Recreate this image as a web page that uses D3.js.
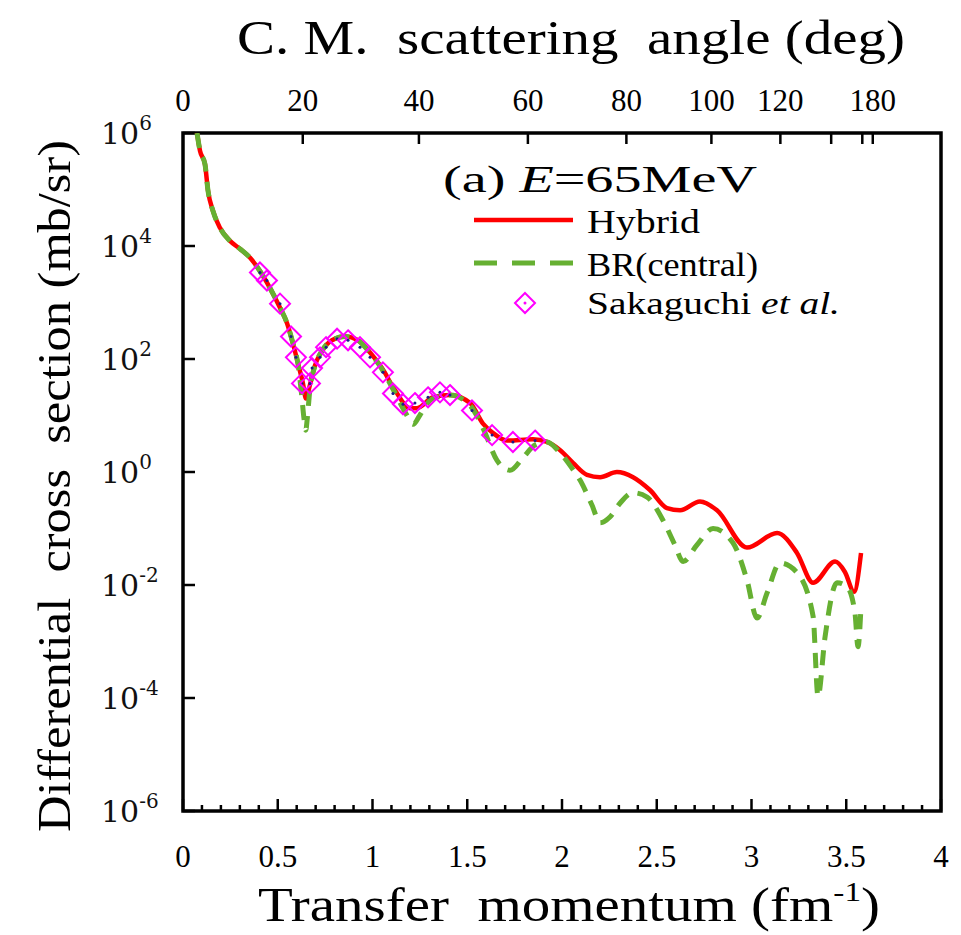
<!DOCTYPE html>
<html><head><meta charset="utf-8">
<script src="https://cdn.jsdelivr.net/npm/d3@7"></script>
<style>body{margin:0;background:#fff}svg{display:block}text{white-space:pre}</style>
</head><body>
<script>
// ---------- data ----------
const hybridQ = [0.074,0.090,0.116,0.132,0.158,0.195,0.248,0.301,0.354,0.406,0.459,0.512,0.549,0.580,0.607,0.633,0.649,0.670,0.697,0.734,0.786,0.855,0.923,0.987,1.050,1.119,1.198,1.235,1.319,1.409,1.515,1.583,1.636,1.710,1.847,1.921,1.989,2.058,2.132,2.201,2.290,2.375,2.464,2.554,2.623,2.728,2.818,2.976,3.135,3.240,3.325,3.441,3.493,3.541,3.578];
const hybridVal = [1e6,4.8e5,2.8e5,9.5e4,4.2e4,2.1e4,1.23e4,8.9e3,6.2e3,3.6e3,1.8e3,810,430,190,83,37,20,35,78,140,215,250,215,130,69,28,13.5,13.5,21,23,16.6,7.2,4.9,3.6,3.8,3.4,2.45,1.45,0.89,0.81,1.0,0.81,0.48,0.23,0.21,0.30,0.21,0.046,0.083,0.037,0.011,0.026,0.017,0.0076,0.037];

const brQ = [0.074,0.090,0.116,0.132,0.158,0.195,0.248,0.301,0.354,0.406,0.459,0.512,0.549,0.580,0.607,0.625,0.640,0.648,0.656,0.670,0.697,0.734,0.786,0.855,0.923,0.987,1.050,1.119,1.175,1.215,1.245,1.280,1.319,1.409,1.515,1.583,1.657,1.726,1.794,1.858,1.921,1.989,2.058,2.095,2.158,2.201,2.253,2.306,2.375,2.449,2.533,2.596,2.639,2.712,2.797,2.902,2.976,3.029,3.082,3.150,3.240,3.325,3.351,3.388,3.451,3.504,3.546,3.562,3.578];
const brVal = [1e6,4.8e5,2.8e5,9.5e4,4.2e4,2.1e4,1.23e4,8.9e3,6.2e3,3.6e3,1.8e3,810,430,190,80,25,8,5.5,9,30,76,140,215,250,215,128,66,25,11,7,9.5,15,20,23,15,6.0,1.6,1.07,1.8,3.0,3.4,2.2,1.1,0.72,0.26,0.126,0.16,0.28,0.43,0.36,0.14,0.051,0.026,0.051,0.10,0.056,0.0123,0.0026,0.0072,0.0245,0.0166,0.0028,0.000107,0.0012,0.011,0.0093,0.0032,0.00081,0.0042];

const expQ = [0.406,0.443,0.512,0.570,0.596,0.628,0.670,0.681,0.723,0.755,0.813,0.871,0.934,0.987,1.055,1.108,1.161,1.224,1.293,1.356,1.409,1.525,1.631,1.741,1.858];
const expVal = [3400,2450,955,250,107,37,37,69,107,162,229,214,162,107,58,24.5,15.8,16.6,21,25.7,23,12.3,4.5,3.4,3.6];

const xTicksMajor = [0,0.5,1,1.5,2,2.5,3,3.5,4];
const xTickLabels = ["0","0.5","1","1.5","2","2.5","3","3.5","4"];
const yTickExp = [6,4,2,0,-2,-4,-6];
const angleTicks = [0,20,40,60,80,100,120,140,160,180];
const angleLabels = ["0","20","40","60","80","100","120","","","180"];
const qMax = 3.64; // q at 180 deg

// ---------- layout ----------
const W=961,H=935;
const X0=183,X1=941,Y0=811,Y1=133;
const x=d3.scaleLinear().domain([0,4]).range([X0,X1]);
const y=d3.scaleLog().domain([1e-6,1e6]).range([Y0,Y1]);
const angleToQ = a => qMax*Math.sin(a*Math.PI/360);

const svg=d3.select("body").append("svg").attr("width",W).attr("height",H);
const serif="'Liberation Serif','Times New Roman',serif";

svg.append("clipPath").attr("id","clip").append("rect")
  .attr("x",X0).attr("y",Y1).attr("width",X1-X0).attr("height",Y0-Y1);

// bottom ticks
const minor=d3.range(0,4.0001,0.1).map(v=>+v.toFixed(2));
svg.append("g").selectAll("line").data(minor).join("line")
  .attr("x1",d=>x(d)).attr("x2",d=>x(d)).attr("y1",Y0).attr("y2",d=>Y0-(Math.abs(d*2-Math.round(d*2))<1e-6?12:6))
  .attr("stroke","#000").attr("stroke-width",2.5);
svg.append("g").selectAll("text").data(xTicksMajor).join("text")
  .attr("x",d=>x(d)).attr("y",867).attr("text-anchor","middle")
  .attr("font-family",serif).attr("font-size",31).text((d,i)=>xTickLabels[i]);

// top (angle) ticks
svg.append("g").selectAll("line").data(angleTicks.filter(a=>a>0)).join("line")
  .attr("x1",d=>x(angleToQ(d))).attr("x2",d=>x(angleToQ(d))).attr("y1",Y1).attr("y2",Y1+11)
  .attr("stroke","#000").attr("stroke-width",2.5);
svg.append("g").selectAll("text").data(angleTicks).join("text")
  .attr("x",d=>x(angleToQ(d))).attr("y",111).attr("text-anchor","middle")
  .attr("font-family",serif).attr("font-size",31).text((d,i)=>angleLabels[i]);

// left ticks
svg.append("g").selectAll("line").data(yTickExp).join("line")
  .attr("x1",X0).attr("x2",X0+12).attr("y1",d=>y(Math.pow(10,d))).attr("y2",d=>y(Math.pow(10,d)))
  .attr("stroke","#000").attr("stroke-width",2.5);
const yl=svg.append("g").selectAll("text").data(yTickExp).join("text")
  .attr("x",101).attr("y",d=>y(Math.pow(10,d))+11)
  .attr("font-family","'DejaVu Serif',serif").attr("fill","#111");
yl.append("tspan").attr("font-size",30).text("10");
yl.append("tspan").attr("font-size",20).attr("dy",-14).text(d=>d<0?"-"+(-d):String(d));

// frame
svg.append("rect").attr("x",X0).attr("y",Y1).attr("width",X1-X0).attr("height",Y0-Y1)
  .attr("fill","none").attr("stroke","#000").attr("stroke-width",3.5);

// curves
const line=d3.line().x(d=>x(d[0])).y(d=>y(d[1])).curve(d3.curveMonotoneX);
const plot=svg.append("g").attr("clip-path","url(#clip)");
plot.append("path").datum(hybridQ.map((q,i)=>[q,hybridVal[i]])).attr("d",line)
  .attr("fill","none").attr("stroke","#ff0000").attr("stroke-width",4.5).attr("stroke-linejoin","round");
plot.append("path").datum(brQ.map((q,i)=>[q,brVal[i]])).attr("d",line)
  .attr("fill","none").attr("stroke","#66b032").attr("stroke-width",5).attr("stroke-dasharray","15,10");

const dia="M0,-10L10,0L0,10L-10,0Z";
const pts=plot.append("g").selectAll("g").data(expQ.map((q,i)=>[q,expVal[i]])).join("g")
  .attr("transform",d=>`translate(${x(d[0])},${y(d[1])})`);
pts.append("path").attr("d",dia).attr("fill","none").attr("stroke","#ff00ff").attr("stroke-width",2);
pts.append("circle").attr("r",1.5).attr("fill","#1a1a8c");

// legend
const lg=svg.append("g").attr("font-family",serif);
const t0=lg.append("text").attr("x",443).attr("y",192).attr("font-size",38).attr("textLength",314).attr("lengthAdjust","spacingAndGlyphs");
t0.append("tspan").text("(a) ");
t0.append("tspan").attr("font-style","italic").text("E");
t0.append("tspan").text("=65MeV");
lg.append("line").attr("x1",474).attr("x2",573).attr("y1",220).attr("y2",220).attr("stroke","#ff0000").attr("stroke-width",4.5);
lg.append("text").attr("x",587).attr("y",233).attr("font-size",34).attr("textLength",113).attr("lengthAdjust","spacingAndGlyphs").text("Hybrid");
lg.append("line").attr("x1",474).attr("x2",573).attr("y1",263).attr("y2",263).attr("stroke","#66b032").attr("stroke-width",5).attr("stroke-dasharray","23,15");
lg.append("text").attr("x",587).attr("y",276).attr("font-size",34).attr("textLength",171).attr("lengthAdjust","spacingAndGlyphs").text("BR(central)");
lg.append("path").attr("d",dia).attr("transform","translate(525,303)").attr("fill","none").attr("stroke","#ff00ff").attr("stroke-width",2);
lg.append("circle").attr("cx",525).attr("cy",303).attr("r",1.5).attr("fill","#ff00ff");
const t3=lg.append("text").attr("x",587).attr("y",314).attr("font-size",31).attr("textLength",253).attr("lengthAdjust","spacingAndGlyphs");
t3.append("tspan").text("Sakaguchi ");
t3.append("tspan").attr("font-style","italic").text("et al.");

// axis titles
svg.append("text").attr("x",237).attr("y",54).attr("font-family",serif).attr("font-size",48)
  .attr("textLength",668).attr("lengthAdjust","spacingAndGlyphs").text("C. M.  scattering  angle (deg)");
const bt=svg.append("text").attr("x",258).attr("y",921).attr("font-family",serif).attr("font-size",48)
  .attr("textLength",622).attr("lengthAdjust","spacingAndGlyphs");
bt.append("tspan").text("Transfer  momentum (fm");
bt.append("tspan").attr("font-size",28).attr("dy",-20).text("-1");
bt.append("tspan").attr("dy",20).text(")");
svg.append("text").attr("transform","translate(70,832) rotate(-90)").attr("font-family",serif).attr("font-size",46)
  .attr("textLength",692).attr("lengthAdjust","spacingAndGlyphs").text("Differential  cross  section (mb/sr)");
</script>
</body></html>
